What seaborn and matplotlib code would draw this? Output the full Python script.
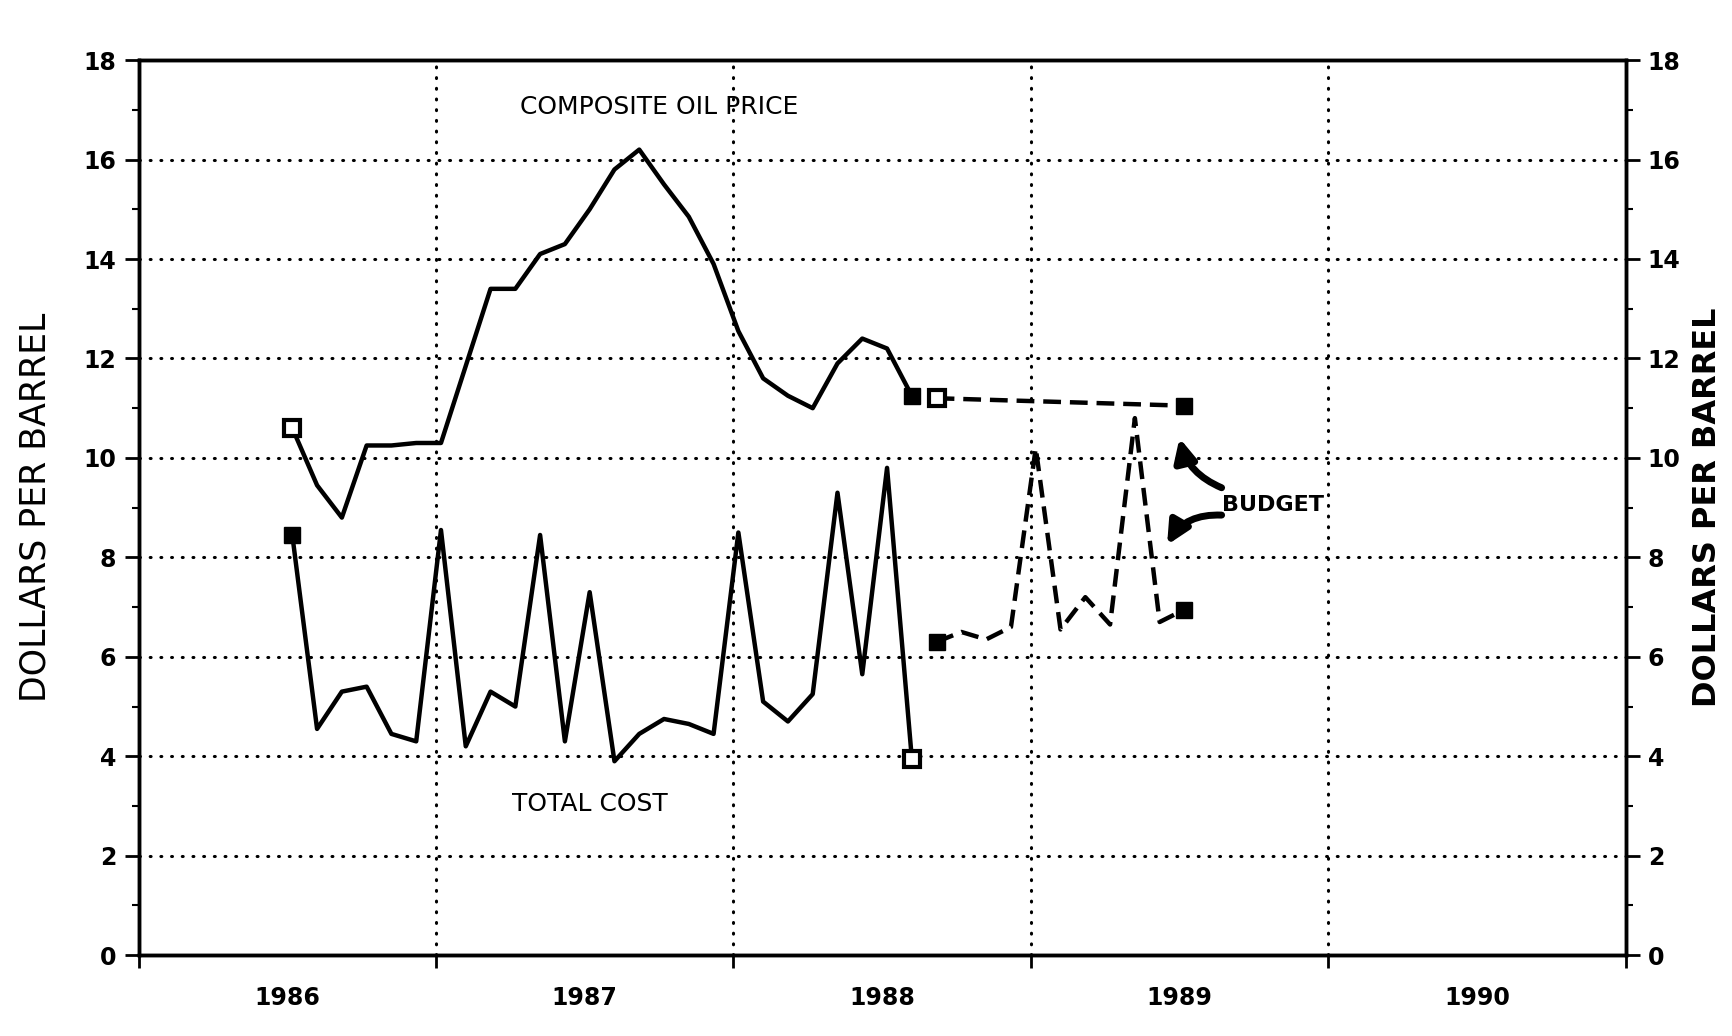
import numpy as np
import pandas as pd
import seaborn as sns
import matplotlib.pyplot as plt
from matplotlib.ticker import MultipleLocator, FixedLocator, NullFormatter

sns.set_style("ticks")
plt.rcParams['font.family'] = ['DejaVu Sans']
plt.rcParams.update({"text.color": "black", "axes.labelcolor": "black",
                     "xtick.color": "black", "ytick.color": "black"})

# months counted from January 1986
price_months = list(range(26))
price_values = [10.6, 9.45, 8.8, 10.25, 10.25, 10.3, 10.3, 11.85, 13.4, 13.4, 14.1, 14.3, 15.0,
                15.8, 16.2, 15.5, 14.85, 13.9, 12.55, 11.6, 11.25, 11.0, 11.9, 12.4, 12.2, 11.25]
budget_price_months = [26, 36]
budget_price_values = [11.2, 11.05]

cost_months = list(range(26))
cost_values = [8.45, 4.55, 5.3, 5.4, 4.45, 4.3, 8.55, 4.2, 5.3, 5.0, 8.45, 4.3, 7.3,
               3.9, 4.45, 4.75, 4.65, 4.45, 8.5, 5.1, 4.7, 5.25, 9.3, 5.65, 9.8, 3.95]
budget_cost_months = list(range(26, 37))
budget_cost_values = [6.3, 6.5, 6.35, 6.6, 10.2, 6.55, 7.2, 6.65, 10.8, 6.7, 6.95]

years = ["1986", "1987", "1988", "1989", "1990"]
y_ticks = [0, 2, 4, 6, 8, 10, 12, 14, 16, 18]

df = pd.concat([
    pd.DataFrame({"month": price_months, "value": price_values, "series": "price"}),
    pd.DataFrame({"month": budget_price_months, "value": budget_price_values, "series": "budget price"}),
    pd.DataFrame({"month": cost_months, "value": cost_values, "series": "cost"}),
    pd.DataFrame({"month": budget_cost_months, "value": budget_cost_values, "series": "budget cost"}),
])

fig = plt.figure(figsize=(17.33, 10.36), dpi=100)
ax = fig.add_axes([0.080, 0.078, 0.858, 0.864])

x0 = -6.2  # axis starts half a year before the 1986 label
ax.set_xlim(x0, x0 + 60)
ax.set_ylim(0, 18)

# dotted grid
for y in y_ticks[1:-1]:
    ax.axhline(y, color="black", lw=2.2, ls=(0, (0.3, 3.2)), dash_capstyle="round", zorder=1)
for i in range(1, 5):
    ax.axvline(x0 + 12 * i, color="black", lw=2.2, ls=(0, (0.3, 3.2)), dash_capstyle="round", zorder=1)

styles = {"price": "-", "cost": "-", "budget price": (0, (4, 2)), "budget cost": (0, (4, 2))}
for name, ls in styles.items():
    sub = df[df["series"] == name]
    sns.lineplot(data=sub, x="month", y="value", ax=ax, color="black", lw=3.2,
                 linestyle=ls, legend=False, zorder=3)

# end markers
open_kw = dict(marker="s", ms=11, mfc="white", mec="black", mew=3, ls="none", zorder=4)
fill_kw = dict(marker="s", ms=12, mfc="black", mec="black", ls="none", zorder=4)
ax.plot(price_months[0], price_values[0], **open_kw)
ax.plot(price_months[-1], price_values[-1], **fill_kw)
ax.plot(budget_price_months[0], budget_price_values[0], **open_kw)
ax.plot(budget_price_months[-1], budget_price_values[-1], **fill_kw)
ax.plot(cost_months[0], cost_values[0], **fill_kw)
ax.plot(cost_months[-1], cost_values[-1], **open_kw)
ax.plot(budget_cost_months[0], budget_cost_values[0], **fill_kw)
ax.plot(budget_cost_months[-1], budget_cost_values[-1], **fill_kw)

# text labels
ax.text(14.8, 17.05, "COMPOSITE OIL PRICE", ha="center", va="center", fontsize=18)
ax.text(12.0, 3.05, "TOTAL COST", ha="center", va="center", fontsize=18)
ax.text(37.5, 9.05, "BUDGET", ha="left", va="center", fontsize=16, fontweight="bold")
arrow = dict(arrowstyle="-|>,head_length=0.45,head_width=0.22", lw=5, color="black",
             mutation_scale=30, shrinkA=0, shrinkB=0)
ax.annotate("", xy=(35.8, 10.4), xytext=(37.5, 9.4),
            arrowprops=dict(arrow, connectionstyle="arc3,rad=-0.25"))
ax.annotate("", xy=(35.3, 8.25), xytext=(37.5, 8.85),
            arrowprops=dict(arrow, connectionstyle="arc3,rad=0.3"))

# axes and ticks
ax.xaxis.set_major_locator(FixedLocator([x0 + 12 * i for i in range(6)]))
ax.xaxis.set_major_formatter(NullFormatter())
ax.set_xticks([x0 + 6 + 12 * i for i in range(5)], labels=years, minor=True)
ax.tick_params(axis="x", which="major", length=9, width=2, direction="out")
ax.tick_params(axis="x", which="minor", length=0, pad=22, labelsize=17)
for lab in ax.get_xticklabels(minor=True):
    lab.set_fontweight("bold")

ax.set_yticks(y_ticks)
ax.yaxis.set_minor_locator(MultipleLocator(1))
ax.tick_params(axis="y", which="major", length=10, width=2, direction="out", labelsize=17, pad=6)
ax.tick_params(axis="y", which="minor", length=5, width=1.5, direction="out")
for lab in ax.get_yticklabels():
    lab.set_fontweight("bold")
ax.set_xlabel("")
ax.set_ylabel("DOLLARS PER BARREL", fontsize=25, labelpad=22)

ax2 = ax.twinx()
ax2.set_ylim(0, 18)
ax2.set_yticks(y_ticks)
ax2.yaxis.set_minor_locator(MultipleLocator(1))
ax2.tick_params(axis="y", which="major", length=10, width=2, direction="out", labelsize=17, pad=6)
ax2.tick_params(axis="y", which="minor", length=5, width=1.5, direction="out")
for lab in ax2.get_yticklabels():
    lab.set_fontweight("bold")
ax2.set_ylabel("DOLLARS PER BARREL", fontsize=23, fontweight="bold", labelpad=8)

for a in (ax, ax2):
    for s in a.spines.values():
        s.set_linewidth(2.5)
        s.set_color("black")

fig.savefig("out.png", dpi=100)
plt.close()
